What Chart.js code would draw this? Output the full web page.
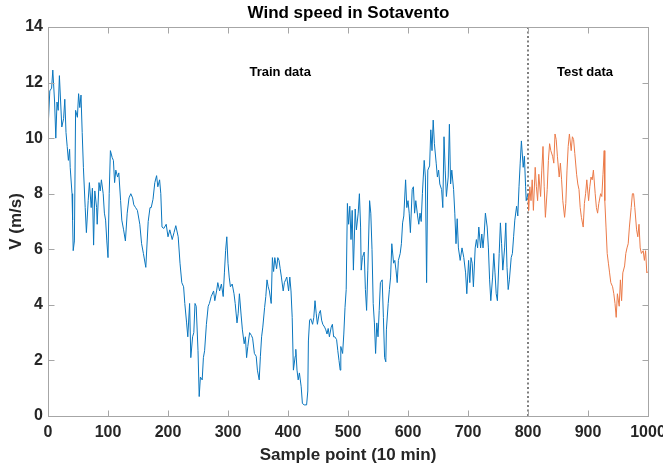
<!DOCTYPE html>
<html>
<head>
<meta charset="utf-8">
<script src="https://cdn.jsdelivr.net/npm/chart.js@4.4.0/dist/chart.umd.min.js"></script>
<style>
  body { margin: 0; background: #fff; }
</style>
</head>
<body>
<canvas id="windChart" width="663" height="468"></canvas>
<script>
// Wind speed, train part (sample index, m/s)
const trainX = [0,3,6,8,11,13,15,17,19,23,26,28,30,32,34,36,37,40,41,42,44,46,49,51,53,55,57,59,62,64,67,69,72,74,76,78,81,82,85,87,89,92,94,96,98,100,
  102,104,107,109,111,113,116,118,121,123,126,129,132,135,138,141,143,146,149,153,156,159,163,167,170,172,175,178,181,183,186,188,190,193,197,200,
  203,207,210,213,217,220,223,226,228,231,233,236,238,241,243,245,247,250,252,254,257,259,261,264,267,269,272,276,278,281,283,286,289,292,294,296,298,300,
  302,304,307,310,312,315,317,319,322,324,327,329,331,333,336,339,341,344,347,349,352,354,356,358,361,363,365,367,369,372,374,376,378,381,383,385,387,389,392,394,396,398,
  401,403,405,407,409,412,413,415,417,419,422,424,427,431,433,434,436,438,441,443,445,447,449,452,454,456,458,461,463,465,467,469,472,474,476,478,481,483,485,487,488,491,493,495,497,499,
  501,503,505,507,509,512,514,517,519,521,522,524,527,529,531,533,536,538,540,542,544,546,548,550,552,554,557,559,561,563,564,567,569,571,573,576,578,580,582,584,587,589,591,593,596,598,
  600,602,604,607,609,611,613,616,618,620,622,624,627,629,631,633,636,638,640,642,644,647,649,651,653,656,658,660,662,664,667,669,671,673,676,678,680,682,684,687,690,693,696,698,
  701,703,705,707,709,712,714,716,718,721,723,725,727,729,732,734,736,738,741,743,745,747,749,752,754,756,758,761,763,765,767,769,772,774,776,778,781,783,785,787,789,792,794,796,797,800];
const trainY = [10.3,11.7,11.8,12.45,11.3,10.0,11.3,11.0,12.25,10.4,10.7,11.4,10.2,9.7,9.2,9.6,8.95,8.0,7.05,5.95,6.3,11.0,10.75,11.6,11.1,11.55,10.2,8.95,7.5,6.6,7.75,8.4,7.5,8.2,6.15,8.1,7.5,6.9,8.4,8.1,8.5,8.0,7.3,7.05,6.3,5.7,
  8.0,9.55,9.3,9.2,8.4,8.85,8.6,8.75,7.75,7.05,6.7,6.3,7.3,7.85,8.0,7.85,7.6,7.5,7.4,6.9,6.2,5.85,5.35,7.0,7.5,7.5,7.8,8.4,8.65,8.25,8.5,8.0,6.8,6.75,6.9,6.45,
  6.7,6.35,6.6,6.85,6.45,5.5,4.8,4.65,4.05,3.35,2.85,4.05,2.1,2.85,3.0,4.05,3.95,2.35,0.7,1.4,1.3,2.1,2.35,3.3,3.95,4.05,4.3,4.5,4.15,4.5,4.8,4.5,4.75,4.3,5.15,5.95,6.45,5.5,
  5.0,4.65,4.75,4.4,4.05,3.35,3.7,4.4,3.6,3.1,2.6,2.85,2.1,2.5,3.0,2.9,2.8,2.25,2.15,1.65,1.3,2.15,2.85,3.2,3.9,4.3,4.9,4.65,4.5,4.05,5.7,5.2,5.7,5.3,5.7,5.6,5.3,5.0,4.5,4.8,4.9,5.0,
  4.5,5.0,4.5,3.55,1.65,2.15,2.4,1.65,1.3,1.55,1.05,0.45,0.4,0.4,0.9,2.7,3.45,3.5,3.3,3.55,4.15,3.7,3.3,3.7,3.8,3.45,3.3,3.2,3.1,2.95,3.15,2.85,3.2,3.3,2.85,2.85,2.75,2.35,2.0,1.65,2.5,2.25,2.95,3.9,4.55,7.65,
  6.9,7.55,6.35,7.4,5.25,7.45,6.7,7.3,8.0,6.8,5.25,5.7,5.9,4.55,3.8,5.25,7.75,7.3,6.0,4.05,3.35,2.25,3.35,2.85,3.8,4.8,4.9,3.55,2.1,1.95,3.1,4.05,4.55,5.0,6.2,5.5,5.6,5.25,4.8,5.6,5.85,6.2,6.95,7.2,8.5,7.5,
  7.75,7.3,6.6,8.15,8.25,7.3,7.75,7.2,6.9,7.3,7.0,8.0,9.2,8.6,4.8,8.85,9.0,10.3,9.55,10.65,9.8,9.1,8.6,8.85,8.35,8.15,7.5,10.05,8.85,7.9,8.6,10.5,8.35,8.85,8.15,7.3,6.2,7.1,6.05,5.6,6.05,5.7,5.15,4.4,
  5.6,4.8,5.7,5.5,4.65,6.05,6.35,6.05,6.8,6.05,6.55,6.05,6.55,7.3,6.8,6.05,4.9,4.15,5.0,5.85,5.15,4.4,4.15,5.85,6.95,6.2,5.25,6.05,6.95,5.35,4.55,4.9,5.7,5.85,6.45,7.05,7.55,7.2,8.25,9.1,9.9,8.95,9.35,8.25,7.75,8.0];

// Wind speed, test part
const testX = [800,801,803,805,807,809,812,814,816,818,821,823,825,827,829,832,834,836,838,841,843,845,847,849,852,854,856,858,861,863,865,867,869,872,874,876,878,
  881,883,885,887,889,892,894,896,898,901,903,905,907,909,912,914,916,918,921,923,925,927,928,930,932,934,936,938,941,943,945,947,949,952,954,956,958,
  961,963,965,967,969,972,974,976,978,981,983,985,987,989,992,994,996,998,1000];
const testY = [8.0,7.4,8.25,7.75,8.5,7.4,8.95,8.25,7.75,8.7,7.9,8.85,9.7,8.25,7.15,8.15,9.2,9.8,9.55,9.35,9.1,10.15,9.95,9.35,8.6,9.1,8.5,7.75,7.15,7.65,8.85,9.7,10.15,9.55,10.05,9.95,9.45,
  8.7,8.35,8.15,7.5,7.15,6.8,7.65,8.0,8.5,7.75,8.25,8.6,8.5,8.85,8.0,7.5,7.3,7.65,8.0,7.9,8.7,9.55,7.75,6.8,5.85,5.5,5.15,4.8,4.65,4.4,4.05,3.55,4.4,3.95,4.9,4.15,5.15,
  5.4,5.85,6.05,6.2,6.8,7.5,8.0,8.0,7.5,6.7,6.45,6.9,6.05,5.85,5.95,5.6,5.95,5.15,5.2];

// split marker and region labels
const splitAt = 800;
const xTicks = [0, 1000, 100];
const yTicks = [0, 14, 2];
const regionLabels = [
  { text: "Train data", x: 387, y: 12.35 },
  { text: "Test data", x: 895, y: 12.35 }
];

const BLUE = "rgb(10, 118, 190)";
const ORANGE = "rgb(235, 122, 72)";
const AXIS = "#a6a6a6";
const FONT = "'Liberation Sans', Arial, sans-serif";

const toPoints = (xs, ys) => xs.map((x, i) => ({ x: x, y: ys[i] }));

// box, inward ticks, title and text labels (MATLAB look)
const boxPlugin = {
  id: "box",
  afterDatasetsDraw(chart) {
    const { ctx, scales: { x, y } } = chart;
    const l = Math.round(x.getPixelForValue(xTicks[0])) + 0.5;
    const r = Math.round(x.getPixelForValue(xTicks[1])) + 0.5;
    const t = Math.round(y.getPixelForValue(yTicks[1])) + 0.5;
    const b = Math.round(y.getPixelForValue(yTicks[0])) + 0.5;
    ctx.save();
    ctx.strokeStyle = AXIS;
    ctx.lineWidth = 1;
    ctx.strokeRect(l, t, r - l, b - t);
    ctx.beginPath();
    x.ticks.forEach(tk => {
      const px = Math.round(x.getPixelForValue(tk.value)) + 0.5;
      ctx.moveTo(px, b); ctx.lineTo(px, b - 6);
      ctx.moveTo(px, t); ctx.lineTo(px, t + 6);
    });
    y.ticks.forEach(tk => {
      const py = Math.round(y.getPixelForValue(tk.value)) + 0.5;
      ctx.moveTo(l, py); ctx.lineTo(l + 6, py);
      ctx.moveTo(r, py); ctx.lineTo(r - 6, py);
    });
    ctx.stroke();

    ctx.fillStyle = "#000";
    ctx.textAlign = "center";
    ctx.textBaseline = "middle";
    ctx.font = "bold 13px " + FONT;
    regionLabels.forEach(lb => {
      ctx.fillText(lb.text, x.getPixelForValue(lb.x), y.getPixelForValue(lb.y));
    });
    ctx.font = "bold 17px " + FONT;
    ctx.fillText("Wind speed in Sotavento", (l + r) / 2, 13);
    ctx.restore();
  }
};

const ctx = document.getElementById("windChart").getContext("2d");
const windChart = new Chart(ctx, {
  type: "line",
  data: {
    datasets: [{
      label: "Train",
      data: toPoints(trainX, trainY),
      borderColor: BLUE,
      borderWidth: 1,
      pointRadius: 0,
      tension: 0
    }, {
      label: "Test",
      data: toPoints(testX, testY),
      borderColor: ORANGE,
      borderWidth: 1,
      pointRadius: 0,
      tension: 0
    }, {
      label: "Split",
      data: [{ x: splitAt, y: yTicks[0] }, { x: splitAt, y: yTicks[1] }],
      borderColor: "#555",
      borderWidth: 1.5,
      borderDash: [2, 2.5],
      pointRadius: 0
    }]
  },
  options: {
    responsive: false,
    animation: false,
    devicePixelRatio: 1,
    layout: { padding: { top: 27, right: 0, left: 0, bottom: 0 } },
    plugins: {
      legend: { display: false },
      tooltip: { enabled: false }
    },
    scales: {
      x: {
        type: "linear",
        min: xTicks[0], max: xTicks[1],
        grid: { display: false, drawTicks: false },
        border: { display: false },
        ticks: {
          stepSize: xTicks[2],
          padding: 7,
          color: "#262626",
          font: { family: FONT, size: 16, weight: "bold" },
          callback: v => String(v)
        },
        title: {
          display: true,
          text: "Sample point (10 min)",
          color: "#262626",
          padding: { top: 0, bottom: 2 },
          font: { family: FONT, size: 17, weight: "bold" }
        },
        afterFit: s => { s.height = 52; s.paddingRight = 15; s.paddingLeft = 0; }
      },
      y: {
        min: yTicks[0], max: yTicks[1],
        grid: { display: false, drawTicks: false },
        border: { display: false },
        ticks: {
          stepSize: yTicks[2],
          padding: 5,
          color: "#262626",
          font: { family: FONT, size: 16, weight: "bold" }
        },
        title: {
          display: true,
          text: "V (m/s)",
          color: "#262626",
          padding: { top: 6, bottom: 0 },
          font: { family: FONT, size: 17, weight: "bold" }
        },
        afterFit: s => { s.width = 48; s.paddingTop = 0; s.paddingBottom = 0; }
      }
    }
  },
  plugins: [boxPlugin]
});
</script>
</body>
</html>
